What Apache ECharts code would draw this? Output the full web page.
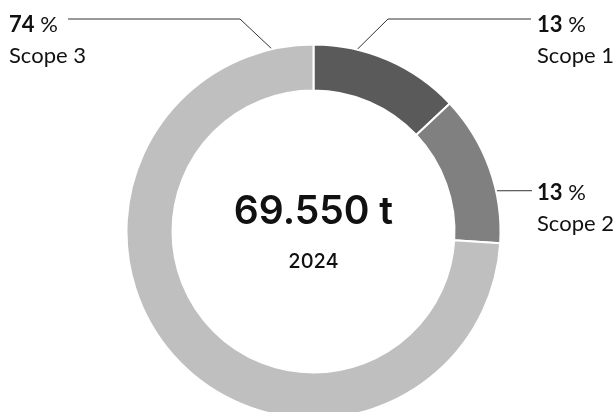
<!DOCTYPE html>
<html>
<head>
<meta charset="utf-8">
<script src="https://cdn.jsdelivr.net/npm/echarts@6/dist/echarts.min.js"></script>
<style>
  html, body { margin: 0; padding: 0; background: #fff; }
  #chart { width: 615px; height: 412px; }
</style>
</head>
<body>
<div id="chart"></div>
<script>
// Emission shares by scope (percent of total), clockwise from 12 o'clock
const scopes = ['Scope 1', 'Scope 2', 'Scope 3'];
const shares = [13, 13, 74];
const sliceColors = ['#5a5a5a', '#808080', '#bfbfbf'];
const totalText = '69.550 t';
const yearText = '2024';

// Ring geometry
const CX = 313.5, CY = 231.5;
const R_IN = 141, R_OUT = 187;

// Leader anchors on the ring (angle in degrees clockwise from top, radius),
// optional elbow, line end and text-block origin for every slice
const leaders = [
  { ang: 11.4,  r: 177, elbow: [388, 19], end: [531, 19],    text: [537, 9] },
  { ang: 77,    r: 181, elbow: null,      end: [532, 190.7], text: [537, 177] },
  { ang: -10.6, r: 177, elbow: [240, 19], end: [68, 19],     text: [9, 9] }
];

function ringPoint(angDeg, r) {
  const a = angDeg * Math.PI / 180;
  return [CX + r * Math.sin(a), CY - r * Math.cos(a)];
}

const chart = echarts.init(document.getElementById('chart'), null, { renderer: 'canvas' });

const FONT = 'Lato, "Noto Sans", sans-serif';

chart.setOption({
  animation: false,
  backgroundColor: '#fff',
  series: [{
    type: 'pie',
    center: [CX, CY],
    radius: [R_IN, R_OUT],
    startAngle: 90,
    clockwise: true,
    silent: true,
    itemStyle: { borderColor: '#fff', borderWidth: 2 },
    data: scopes.map((name, i) => ({
      name: name,
      value: shares[i],
      itemStyle: { color: sliceColors[i] }
    })),
    label: {
      show: true,
      position: 'outside',
      overflow: 'none',
      formatter: p => '{num|' + p.value + '}{pct| %}\n{name|' + p.name + '}',
      rich: {
        num:  { fontFamily: FONT, fontSize: 22, fontWeight: 'bold', color: '#111', lineHeight: 31.5 },
        pct:  { fontFamily: FONT, fontSize: 22, fontWeight: 'normal', color: '#111', lineHeight: 31.5 },
        name: { fontFamily: FONT, fontSize: 22, fontWeight: 'normal', color: '#111', lineHeight: 31.5 }
      }
    },
    labelLine: {
      show: true,
      lineStyle: { color: '#333', width: 1 }
    },
    labelLayout: function (p) {
      const L = leaders[p.dataIndex];
      const pts = [ringPoint(L.ang, L.r)];
      if (L.elbow) pts.push(L.elbow);
      pts.push(L.end);
      return {
        x: L.text[0],
        y: L.text[1],
        width: 90,
        align: 'left',
        verticalAlign: 'top',
        labelLinePoints: pts
      };
    }
  }],
  graphic: [
    {
      type: 'text',
      x: CX, y: 212.5,
      style: {
        text: totalText,
        fontFamily: 'Inter, sans-serif',
        fontSize: 39,
        fontWeight: 600,
        fill: '#111',
        align: 'center',
        verticalAlign: 'middle'
      }
    },
    {
      type: 'text',
      x: CX, y: 261.7,
      style: {
        text: yearText,
        fontFamily: 'Inter, sans-serif',
        fontSize: 20,
        fontWeight: 500,
        fill: '#111',
        align: 'center',
        verticalAlign: 'middle'
      }
    }
  ]
});
</script>
</body>
</html>
